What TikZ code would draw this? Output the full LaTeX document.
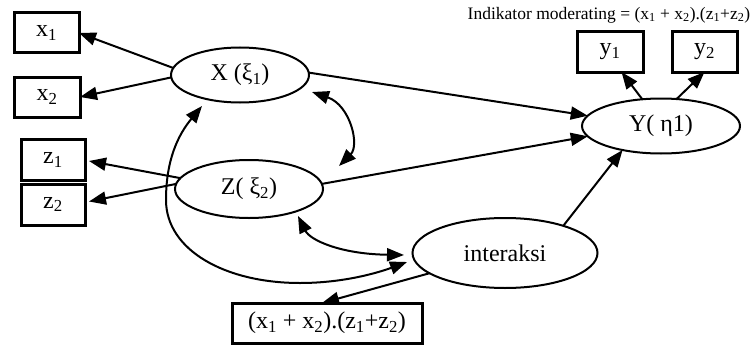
\documentclass[tikz,border=0pt]{standalone}
\usepackage{fontspec}
\setmainfont{Liberation Serif}
\usetikzlibrary{arrows.meta,shapes.geometric}
\begin{document}
\begin{tikzpicture}[x=1pt,y=-1pt, line width=2pt,
  lat/.style={ellipse, draw, line width=2pt, inner sep=0pt, outer sep=0pt, font=\fontsize{24}{28}\selectfont},
  ind/.style={rectangle, draw, line width=3pt, inner sep=0pt, outer sep=0pt, font=\fontsize{24}{28}\selectfont},
  arr/.style={-{Triangle[length=17pt,width=13pt]}},
  dbl/.style={{Triangle[length=17pt,width=13pt]}-{Triangle[length=17pt,width=13pt]}}]
\useasboundingbox (0,0) rectangle (754,345);
% latent variables
\node[lat, minimum width=138pt, minimum height=55pt] (X) at (240,75) {X (ξ\textsubscript{1})};
\node[lat, minimum width=148pt, minimum height=58pt] (Z) at (249,189) {Z( ξ\textsubscript{2})};
\node[lat, minimum width=158pt, minimum height=55pt] (Y) at (661,126) {Y( η1)};
\node[lat, minimum width=185pt, minimum height=70pt] (I) at (505,253) {interaksi};
% indicators
\node[ind, minimum width=65pt, minimum height=40pt] (x1) at (46.5,33) {x\textsubscript{1}};
\node[ind, minimum width=66pt, minimum height=40pt] (x2) at (47,97) {x\textsubscript{2}};
\node[ind, minimum width=64pt, minimum height=41pt] (z1) at (53,160) {z\textsubscript{1}};
\node[ind, minimum width=64pt, minimum height=41pt] (z2) at (53,204.5) {z\textsubscript{2}};
\node[ind, minimum width=66pt, minimum height=40pt] (y1) at (610,52) {y\textsubscript{1}};
\node[ind, minimum width=65pt, minimum height=40pt] (y2) at (704.5,52) {y\textsubscript{2}};
\node[ind, minimum width=190pt, minimum height=40pt] (B) at (327,323) {(x\textsubscript{1} + x\textsubscript{2}).(z\textsubscript{1}+z\textsubscript{2})};
% title
\node[inner sep=0pt, font=\fontsize{17.5}{20}\selectfont] (T) at (609,15) {Indikator moderating = (x\textsubscript{1} + x\textsubscript{2}).(z\textsubscript{1}+z\textsubscript{2})};
% straight connectors
\draw[arr] (X.174) -- (x1.east);
\draw[arr] (X.182) -- (x2.east);
\draw[arr] (X.2) -- (Y.172);
\draw[arr] (Z.4) -- (Y.188);
\draw[arr] (Z.171) -- ([xshift=4pt,yshift=-1pt]z1.east);
\draw[arr] (Z.176) -- ([xshift=4pt,yshift=3pt]z2.east);
\draw[arr] (I.195) -- ([xshift=-5pt]B.north);
\draw[arr] (I.25) -- (Y.212);
\draw[arr] (Y.125) -- (y1.-60);
\draw[arr] (Y.60) -- (y2.south);
% curved connectors
\draw[dbl] ([shift={(72,17)}]X.center) .. controls +(38,13) and +(21,-21) .. ([shift={(90,-23)}]Z.center);
\draw[dbl] ([shift={(-38,31)}]X.center) .. controls +(-24,29) and +(0,-40) .. (166,200)
  .. controls +(0,50) and +(-75,0) .. (300,283)
  .. controls +(45,0) and +(-27,10) .. ([shift={(-98,9)}]I.center);
\draw[dbl] ([shift={(49,27)}]Z.center) .. controls +(12,24) and +(-64,-1) .. ([shift={(-101,2)}]I.center);
\end{tikzpicture}
\end{document}
